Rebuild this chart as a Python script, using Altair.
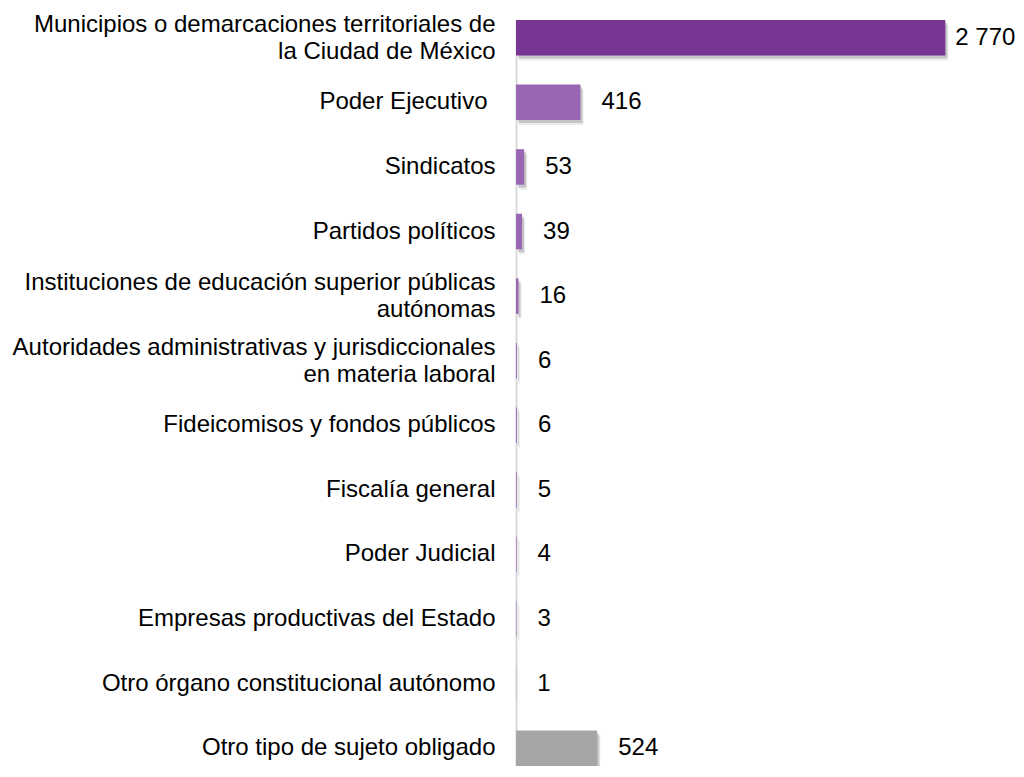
import altair as alt
import pandas as pd

categories = [
    "Municipios o demarcaciones territoriales de\nla Ciudad de México",
    "Poder Ejecutivo ",
    "Sindicatos",
    "Partidos políticos",
    "Instituciones de educación superior públicas\nautónomas",
    "Autoridades administrativas y jurisdiccionales\nen materia laboral",
    "Fideicomisos y fondos públicos",
    "Fiscalía general",
    "Poder Judicial",
    "Empresas productivas del Estado",
    "Otro órgano constitucional autónomo",
    "Otro tipo de sujeto obligado",
]
values = [2770, 416, 53, 39, 16, 6, 6, 5, 4, 3, 1, 524]

bar_colors = ["#773594"] + ["#9966B3"] * 10 + ["#A6A6A6"]

df = pd.DataFrame({"cat": categories, "v": values})

FONT = "Liberation Sans"
FS = 24

y_enc = alt.Y(
    "cat:N",
    sort=categories,
    scale=alt.Scale(domain=categories, paddingInner=0.45, paddingOuter=0),
    axis=alt.Axis(
        title=None,
        ticks=False,
        domain=True,
        domainColor="#D9D9D9",
        domainWidth=2,
        labelPadding={
            "condition": {"test": "test(/ $/, datum.value)", "value": 29},
            "value": 21,
        },
        labelFontSize=FS,
        labelFont=FONT,
        labelColor="#000000",
        labelLineHeight=27,
        labelLimit=0,
        labelExpr="split(datum.value, '\\n')",
        labelOffset={
            "condition": {"test": "indexof(datum.value, '\\n') >= 0", "value": -13},
            "value": 0,
        },
    ),
)
x_enc = alt.X(
    "v:Q",
    scale=alt.Scale(domain=[0, 3000], nice=False),
    axis=None,
)

base = alt.Chart(df)

shadow = base.mark_bar(color="#000000", opacity=0.16, xOffset=2, yOffset=3).encode(
    x=x_enc, y=y_enc
)
shadow2 = base.mark_bar(color="#000000", opacity=0.08, xOffset=3, yOffset=5).encode(
    x=x_enc, y=y_enc
)

bars = base.mark_bar().encode(
    x=x_enc,
    y=y_enc,
    color=alt.Color(
        "cat:N",
        scale=alt.Scale(domain=categories, range=bar_colors),
        legend=None,
    ),
)

label_calc = "replace(format(datum.v, ','), ',', ' ')"

text_small = (
    base.transform_filter("datum.v < 2000")
    .transform_calculate(lbl=label_calc)
    .mark_text(align="left", baseline="middle", dx=21, fontSize=FS, font=FONT, color="#000000")
    .encode(x=x_enc, y=y_enc, text="lbl:N")
)
text_big = (
    base.transform_filter("datum.v >= 2000")
    .transform_calculate(lbl=label_calc)
    .mark_text(align="left", baseline="middle", dx=10, fontSize=FS, font=FONT, color="#000000")
    .encode(x=x_enc, y=y_enc, text="lbl:N")
)

chart = (
    alt.layer(shadow2, shadow, bars, text_small, text_big)
    .properties(
        width=465,
        height=746,
        autosize=alt.AutoSizeParams(type="none"),
        padding={"left": 508, "top": 12, "right": 35, "bottom": 0},
        background="#FFFFFF",
    )
    .configure_view(stroke=None)
)

chart.save("out.html", embed_options={"renderer": "svg", "actions": False})
